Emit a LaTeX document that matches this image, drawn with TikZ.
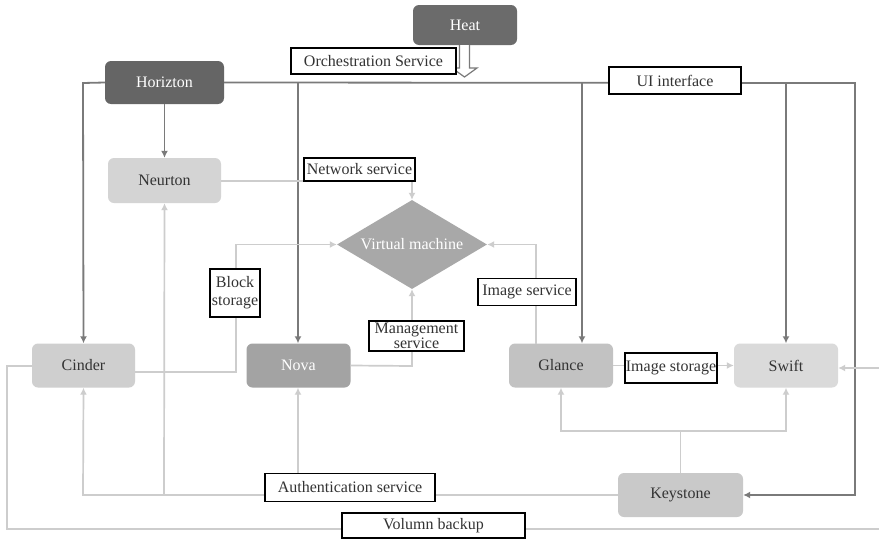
\documentclass[tikz,border=0pt]{standalone}
\usepackage{fontspec}
\setmainfont{Liberation Serif}
\usetikzlibrary{arrows.meta,shapes.geometric,calc}
\definecolor{dkline}{HTML}{7A7A7A}
\definecolor{ltline}{HTML}{CDCDCD}
\definecolor{txt}{HTML}{333333}
\begin{document}
\begin{tikzpicture}[x=1pt,y=-1pt,
  box/.style={rounded corners=6pt, minimum height=44pt, inner sep=0pt, font=\fontsize{16}{18}\selectfont},
  lab/.style={draw=black, line width=1.3pt, fill=white, inner sep=0pt, text=txt, font=\fontsize{16}{16}\selectfont},
  dk/.style={draw=dkline, line width=1.8pt},
  lt/.style={draw=ltline, line width=1.7pt},
  tip/.style={-{Latex[length=7pt,width=7pt]}},
]
\useasboundingbox (0,0) rectangle (879,541);
\fill[white] (0,0) rectangle (879,541);

\coordinate (tl) at (83,83);
\coordinate (tr) at (855,83);
\coordinate (br) at (855,495);

% nodes
\node[box, fill={rgb,255:red,107;green,107;blue,107}, text=white, minimum width=104pt, minimum height=40pt] (heat) at (465,25) {Heat};
\node[box, fill={rgb,255:red,101;green,101;blue,101}, text=white, minimum width=119pt, minimum height=43pt] (horizon) at (164.5,82.5) {Horizton};
\node[box, fill={rgb,255:red,212;green,212;blue,212}, text=txt, minimum width=113pt, minimum height=45pt] (neurton) at (164.5,180.5) {Neurton};
\node[box, fill={rgb,255:red,207;green,207;blue,207}, text=txt, minimum width=103pt] (cinder) at (83.5,365.5) {Cinder};
\node[box, fill={rgb,255:red,163;green,163;blue,163}, text=white, minimum width=104pt] (nova) at (298.5,365.5) {Nova};
\node[box, fill={rgb,255:red,194;green,194;blue,194}, text=txt, minimum width=104pt] (glance) at (561,365.5) {Glance};
\node[box, fill={rgb,255:red,218;green,218;blue,218}, text=txt, minimum width=104pt] (swift) at (786,365.5) {Swift};
\node[box, fill={rgb,255:red,201;green,201;blue,201}, text=txt, minimum width=125pt] (keystone) at (680.5,495) {Keystone};
\node[diamond, aspect=1.7, fill={rgb,255:red,168;green,168;blue,168}, text=white, minimum width=150pt, minimum height=89pt, inner sep=0pt, font=\fontsize{16}{18}\selectfont] (vm) at (412,244.5) {Virtual machine};

% dark connectors from Horizton
\draw[dk, tip] (horizon.east) -- (tr) -- (br) -- (keystone.east);
\draw[dk, tip] (horizon.west) -- (tl) -- (cinder.north);
\draw[dk, tip] (horizon.south) -- (neurton.north);
\coordinate (n1) at (298,83);
\draw[dk, tip] (n1) -- (n1 |- nova.north);
\coordinate (g1) at (582,83);
\draw[dk, tip] (g1) -- (g1 |- glance.north);
\coordinate (s1) at (786,83);
\draw[dk, tip] (s1) -- (swift.north);

% Heat arrow (hollow)
\draw[dkline, line width=1.2pt, fill=white] (459.5,45) -- (459.5,68) -- (452,68) -- (464.5,77) -- (477,68) -- (469.5,68) -- (469.5,45);

% light connectors
\coordinate (nw1) at (412,181);
\draw[lt, tip] (neurton.east |- nw1) -- (nw1) -- (vm.north);
\coordinate (bs0) at (135,372);
\coordinate (bs1) at (236,372);
\coordinate (bs2) at (236,244.5);
\draw[lt, tip] (bs0) -- (bs1) -- (bs2) -- (vm.west);
\coordinate (mg1) at (412,366);
\draw[lt, tip] (nova.east) -- (mg1) -- (vm.south);
\coordinate (is0) at (536,343.5);
\coordinate (is1) at (536,244.5);
\draw[lt, tip] (is0) -- (is1) -- (vm.east);
\draw[lt, tip] (glance.east) -- (swift.west);
\coordinate (k1) at (680.5,431);
\coordinate (kg) at (561,431);
\coordinate (ks) at (786,431);
\draw[lt] (keystone.north) -- (k1);
\draw[lt, tip] (k1) -- (kg) -- (glance.south);
\draw[lt, tip] (k1) -- (ks) -- (swift.south);
\coordinate (a1) at (83,495);
\draw[lt, tip] (keystone.west) -- (a1) -- (cinder.south);
\coordinate (a2) at (164,495);
\draw[lt, tip] (a2) -- (neurton.south);
\coordinate (a3) at (298,495);
\draw[lt, tip] (a3) -- (a3 |- nova.south);
\coordinate (v0) at (7,366);
\coordinate (v1) at (7,529);
\coordinate (v2) at (881,529);
\coordinate (v3) at (881,368);
\draw[lt] (cinder.west |- v0) -- (v0) -- (v1) -- (v2) -- (v3);
\draw[lt, tip] (v3) -- (swift.east |- v3);

% labels
\node[lab, minimum width=165pt, minimum height=26pt] (orch) at (373.5,61) {Orchestration Service};
\node[lab, minimum width=132pt, minimum height=27pt] (ui) at (675,80.5) {UI interface};
\node[lab, minimum width=111pt, minimum height=23pt] (net) at (359.5,169.5) {Network service};
\node[lab, minimum width=50pt, minimum height=48pt, align=center, font=\fontsize{16}{18}\selectfont] (blk) at (235,293) {Block\\storage};
\node[lab, minimum width=95pt, minimum height=30pt, align=center, font=\fontsize{16}{12}\selectfont] (mgmt) at (416.5,336) {Management\\service};
\node[lab, minimum width=98pt, minimum height=27pt] (imgs) at (527,292) {Image service};
\node[lab, minimum width=92pt, minimum height=30pt] (imst) at (671,368) {Image storage};
\node[lab, minimum width=170pt, minimum height=28pt] (auth) at (350,487.5) {Authentication service};
\node[lab, minimum width=183pt, minimum height=25pt] (vb) at (433.5,525.5) {Volumn backup};
\end{tikzpicture}
\end{document}
